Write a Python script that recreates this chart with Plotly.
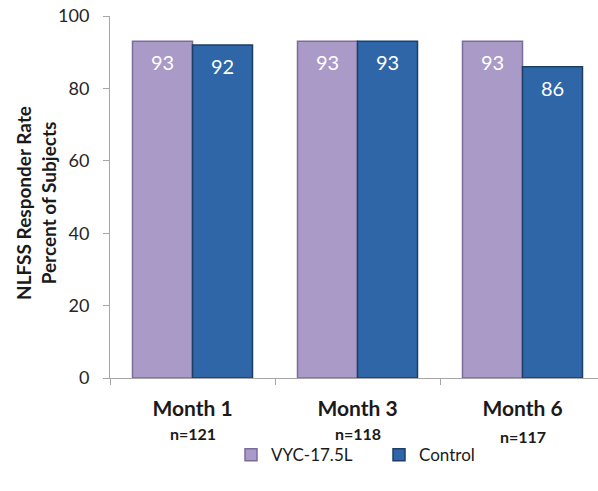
import plotly.graph_objects as go

categories = ["Month 1", "Month 3", "Month 6"]
n_labels = ["n=121", "n=118", "n=117"]
vyc_values = [93, 93, 93]
control_values = [92, 93, 86]
series_names = ["VYC-17.5L", "Control"]
y_ticks = [0, 20, 40, 60, 80, 100]

FONT = "Lato"
PURPLE = "#A99AC8"
PURPLE_EDGE = "#7B6C9C"
BLUE = "#2E66A8"
BLUE_EDGE = "#1D3F66"

fig = go.Figure()
fig.add_trace(go.Bar(
    x=categories, y=vyc_values, name=series_names[0],
    marker=dict(color=PURPLE, line=dict(color=PURPLE_EDGE, width=1.5)),
))
fig.add_trace(go.Bar(
    x=categories, y=control_values, name=series_names[1],
    marker=dict(color=BLUE, line=dict(color=BLUE_EDGE, width=1.5)),
))

# value labels inside bar tops
half = (1 - 45 / 165) / 4
for i, (a, b) in enumerate(zip(vyc_values, control_values)):
    for off, v in ((-half, a), (half, b)):
        fig.add_annotation(x=i + off, y=v, text=str(v), showarrow=False,
                           yshift=-21, font=dict(family=FONT, size=20, color="white"))
    fig.add_annotation(x=i, y=0, yref="y", text="<b>" + n_labels[i] + "</b>",
                       showarrow=False, yshift=-55 if i < 2 else -58,
                       font=dict(family=FONT, size=16, color="#1a1a1a"))

fig.add_annotation(xref="paper", yref="paper", x=(36 - 110) / 488, y=(378 - 203) / 362,
                   text="<b>NLFSS Responder Rate<br>Percent of Subjects</b>",
                   textangle=-90, showarrow=False, xanchor="center", yanchor="middle",
                   font=dict(family=FONT, size=19, color="#1a1a1a"))

fig.update_layout(
    width=598, height=491,
    margin=dict(l=110, r=0, t=16, b=113),
    paper_bgcolor="white", plot_bgcolor="white",
    barmode="group", bargap=45 / 165, bargroupgap=0,
    showlegend=True,
    legend=dict(orientation="h", x=(231 - 110) / 488, xanchor="left", y=-0.213, yanchor="middle",
                font=dict(family=FONT, size=17, color="#1a1a1a"),
                entrywidth=103, entrywidthmode="pixels", traceorder="normal"),
    font=dict(family=FONT),
)
fig.update_xaxes(
    type="category", range=[-0.5, -0.5 + 488 / 165],
    showline=True, linecolor="#A6A6A6", linewidth=1,
    ticks="outside", tickson="boundaries", ticklen=6, tickcolor="#A6A6A6",
    tickvals=categories, ticktext=["<b>" + c + "</b>" for c in categories],
    tickfont=dict(family=FONT, size=21, color="#1a1a1a"),
    ticklabelstandoff=12,
    showgrid=False, zeroline=False,
)
fig.update_yaxes(
    range=[0, 100], tickvals=y_ticks,
    showline=True, linecolor="#A6A6A6", linewidth=1,
    ticks="outside", ticklen=6, tickcolor="#A6A6A6",
    tickfont=dict(family=FONT, size=18, color="#262626"),
    ticklabelstandoff=10,
    showgrid=False, zeroline=False,
)

fig.write_html("out.html")
